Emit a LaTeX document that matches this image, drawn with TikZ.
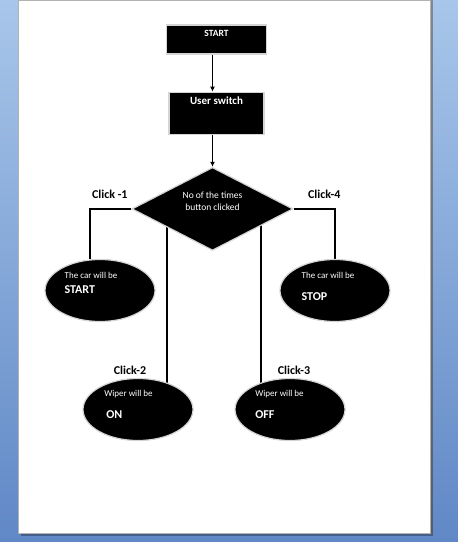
\documentclass[tikz,border=0pt]{standalone}
\usepackage{fontspec}
\setmainfont{Carlito}
\usetikzlibrary{arrows.meta,positioning,shapes.geometric,backgrounds}
\definecolor{desklight}{RGB}{168,198,234}
\definecolor{deskdark}{RGB}{96,136,198}
\definecolor{rim}{RGB}{212,212,212}
\newcommand{\bigbold}{\fontsize{12}{14}\selectfont\bfseries}
\tikzset{box/.style={fill=black,draw=rim,line width=1.2pt,minimum width=100pt,minimum height=29pt,inner sep=0pt},decision/.style={diamond,aspect=2,fill=black,draw=rim,line width=1.2pt,minimum width=161pt,minimum height=83pt,inner sep=0pt},outcome/.style={ellipse,fill=black,draw=rim,line width=1.2pt,minimum width=110pt,minimum height=62pt,inner sep=0pt},intext/.style={text=white,inner sep=0pt,align=center,font=\fontsize{9.5}{12}\selectfont},outtext/.style={text=white,inner sep=0pt,align=left,font=\fontsize{9}{11}\selectfont},arrow/.style={-{Latex[length=5pt,width=5pt]},line width=1.5pt},link/.style={line width=1.5pt},click/.style={inner sep=0pt,font=\bigbold}}

\begin{document}
\begin{tikzpicture}[x=1pt,y=-1pt,node distance=37pt]
\useasboundingbox (0,0) rectangle (458,542);
\node[box,label={[intext,font=\fontsize{9.5}{12}\selectfont\bfseries,yshift=6.5pt]center:START}] (start) at (216.5,39.5) {};
\node[box,minimum width=95pt,minimum height=42pt,below=of start,label={[intext,font=\fontsize{11}{13}\selectfont\bfseries,yshift=12.5pt]center:User switch}] (sw) {};
\node[decision,below=32pt of sw,xshift=-4pt,label={[intext,yshift=7.8pt]center:{No of the times\\button clicked}}] (dec) {};
\node[outcome,label={[outtext,xshift=-9pt,yshift=7.2pt]center:{The car will be\\[4pt]{\bigbold START}}}] (car1) at (100,290.5) {};
\node[outcome,label={[outtext,xshift=-7pt,yshift=3.7pt]center:{The car will be\\[11pt]{\bigbold STOP}}}] (car4) at (335,290.5) {};
\node[outcome,label={[outtext,xshift=-9.5pt,yshift=5.2pt]center:{Wiper will be\\[11pt]\hspace*{2pt}{\bigbold ON}}}] (wip2) at (138,409.5) {};
\node[outcome,label={[outtext,xshift=-10.5pt,yshift=5.2pt]center:{Wiper will be\\[11pt]{\bigbold OFF}}}] (wip3) at (290,409.5) {};
\draw[arrow] (start.south -| dec.north) -- (sw.north -| dec.north);
\draw[arrow] (sw.south -| dec.north) -- (dec.north);
% page, backdrop and the four branches sit behind the shapes
\begin{scope}[on background layer]
\shade[top color=desklight,bottom color=deskdark] (0,0) rectangle (458,542);
\fill[black,opacity=0.3] (21,0) rectangle (433,536);
\fill[white,draw=gray!60,line width=0.6pt] (18,0) rectangle (430,533);
\draw[link] (dec) -| (car1.108) node[click,pos=0.26,above=10pt]{Click -1};
\draw[link] (dec) -| (car4.north) node[click,pos=0.37,above=10pt]{Click-4};
\draw[link] (wip2.43) -- (wip2.43 |- dec.center) node[click,pos=0.073,left=20pt]{Click-2};
\draw[link] (wip3.137) -- (wip3.137 |- dec.center) node[click,pos=0.073,right=16pt]{Click-3};
\end{scope}
\end{tikzpicture}
\end{document}
